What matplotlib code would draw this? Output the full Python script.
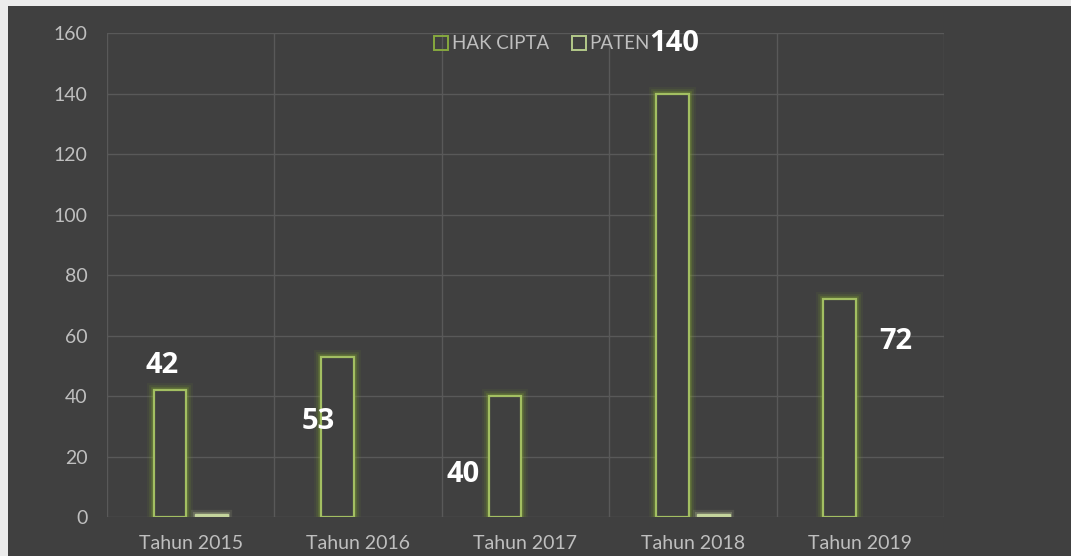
import matplotlib.pyplot as plt
import numpy as np
from matplotlib.patches import Patch, Rectangle

# data
years = ["Tahun 2015", "Tahun 2016", "Tahun 2017", "Tahun 2018", "Tahun 2019"]
hak_cipta = [42, 53, 40, 140, 72]
paten = [1, 0, 0, 1, 0]
# where the data labels sit (category offset, y value), as in the original
label_dx = [-0.17, -0.24, -0.37, -0.11, 0.21]
label_y = [50, 31.5, 14, 156.5, 58]

bg = "#404040"
grid_c = "#595959"
text_c = "#bfbfbf"
hak_edge = "#a3bf62"
hak_glow = "#7f9f30"
paten_c = "#c4d49c"

plt.rcParams['font.family'] = ['Lato', 'DejaVu Sans']

fig = plt.figure(figsize=(10.71, 5.56), dpi=100, facecolor=bg)
ax = fig.add_axes([0.0999, 0.0701, 0.7815, 0.8705])
ax.set_facecolor(bg)

# light frame strip at top and left
fig.patches.append(Rectangle((0, 0.989), 1, 0.011, transform=fig.transFigure,
                             facecolor="#ececec", edgecolor="none", zorder=10))
fig.patches.append(Rectangle((0, 0), 0.0075, 1, transform=fig.transFigure,
                             facecolor="#ececec", edgecolor="none", zorder=10))

x = np.arange(len(years))
w = 0.195
off = 0.123

# glow layers for the hollow bars
for lw, a in [(10, 0.08), (7, 0.15), (4, 0.3)]:
    ax.bar(x - off, hak_cipta, w, facecolor="none", edgecolor=hak_glow,
           linewidth=lw, alpha=a, zorder=3)
ax.bar(x - off, hak_cipta, w, facecolor=bg, edgecolor=hak_edge,
       linewidth=1.6, zorder=4)

# only the non-zero paten bars show up
px = np.array([x[i] + off for i in range(len(paten)) if paten[i] > 0])
pv = [v for v in paten if v > 0]
for lw, a in [(6, 0.12), (3, 0.25)]:
    ax.bar(px, pv, w, facecolor="none", edgecolor=paten_c,
           linewidth=lw, alpha=a, zorder=3)
ax.bar(px, pv, w, facecolor=paten_c, edgecolor=paten_c,
       linewidth=1.0, zorder=4)

for i in range(len(years)):
    ax.text(x[i] + label_dx[i], label_y[i], str(hak_cipta[i]), color="white",
            fontsize=21, fontweight="bold", family=["Open Sans", "DejaVu Sans"],
            ha="center", va="center", zorder=6)

ax.set_xlim(-0.5, len(years) - 0.5)
ax.set_ylim(0, 160)
ax.set_yticks(np.arange(0, 161, 20))
ax.set_xticks(x)
ax.set_xticklabels(years)
ax.set_xticks(np.arange(-0.5, len(years), 1), minor=True)
ax.grid(axis="y", color=grid_c, linewidth=1.0, zorder=0)
ax.grid(axis="x", which="minor", color=grid_c, linewidth=1.0, zorder=0)
ax.tick_params(axis="both", which="both", length=0, colors=text_c, labelsize=14)
ax.tick_params(axis="y", pad=14)
ax.tick_params(axis="x", pad=13)
for s in ax.spines.values():
    s.set_visible(False)

handles = [Patch(facecolor="none", edgecolor="#86a83e", linewidth=1.4, label="HAK CIPTA"),
           Patch(facecolor="none", edgecolor="#b4c98a", linewidth=1.4, label="PATEN")]
leg = ax.legend(handles=handles, loc="upper center", bbox_to_anchor=(0.52, 1.03),
                ncol=2, frameon=False, fontsize=13.5, handlelength=0.75, handleheight=0.75,
                handletextpad=0.2, columnspacing=1.2, labelcolor=text_c)

fig.savefig("out.png", dpi=100, facecolor=bg)
